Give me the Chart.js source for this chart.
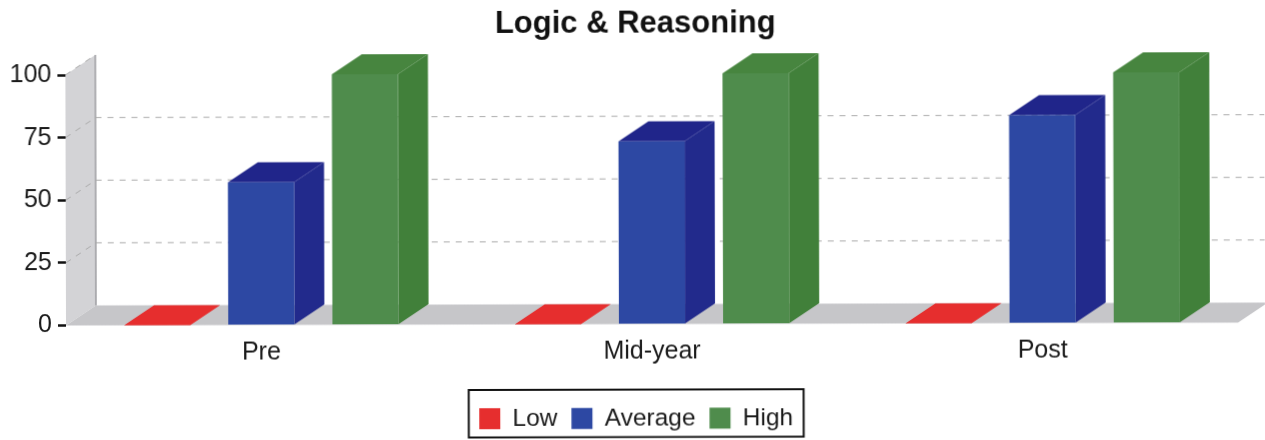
<!DOCTYPE html>
<html>
<head>
<meta charset="utf-8">
<style>
html,body{margin:0;padding:0;background:#fff;overflow:hidden}
canvas{display:block;transform-origin:66px 324px;transform:rotate(-0.14deg)}
</style>
<script src="https://cdn.jsdelivr.net/npm/chart.js@4"></script>
</head>
<body>
<canvas id="c" width="1265" height="440"></canvas>
<script>
const titleText = "Logic & Reasoning";
const categories = ["Pre", "Mid-year", "Post"];
const seriesNames = ["Low", "Average", "High"];
const lowValues = [0, 0, 0];
const averageValues = [57, 73, 83];
const highValues = [100, 100, 100];
const yTickStep = 25;
const yMax = 100;

const frontColors = ["#e62e2e", "#2d48a3", "#4f8c4c"];
const sideColors = ["#e62e2e", "#222a8c", "#41803a"];
const topColors = ["#e62e2e", "#20258a", "#47853f"];
const depthX = 30, depthY = 20;

function poly(ctx, pts, fill) {
  ctx.beginPath();
  pts.forEach((p, i) => i ? ctx.lineTo(p[0], p[1]) : ctx.moveTo(p[0], p[1]));
  ctx.closePath();
  ctx.fillStyle = fill;
  ctx.fill();
}

const scene3d = {
  id: "scene3d",
  beforeDatasetsDraw(chart) {
    const ctx = chart.ctx, a = chart.chartArea, y = chart.scales.y;
    const y0 = y.getPixelForValue(0), yTop = y.getPixelForValue(yMax);
    ctx.save();
    poly(ctx, [[a.left, y0], [a.left + depthX, y0 - depthY], [a.left + depthX, yTop - depthY], [a.left, yTop]], "#d3d3d6");
    poly(ctx, [[a.left, y0], [a.left + depthX, y0 - depthY], [a.right + depthX, y0 - depthY], [a.right, y0]], "#c6c6c9");
    ctx.strokeStyle = "#9c9ca0";
    ctx.lineWidth = 1.5;
    ctx.beginPath();
    ctx.moveTo(a.left + depthX, yTop - depthY);
    ctx.lineTo(a.left + depthX, y0 - depthY);
    ctx.stroke();
    ctx.strokeStyle = "#ababab";
    ctx.lineWidth = 1;
    ctx.setLineDash([6, 6]);
    y.ticks.forEach(t => {
      const py = y.getPixelForValue(t.value);
      if (t.value > 0) {
        ctx.beginPath();
        ctx.moveTo(a.left, py);
        ctx.lineTo(a.left + depthX, py - depthY);
        if (t.value < yMax) ctx.lineTo(a.right + depthX, py - depthY);
        ctx.stroke();
      }
    });
    ctx.setLineDash([]);
    chart.data.datasets.forEach((ds, di) => {
      chart.getDatasetMeta(di).data.forEach(bar => {
        const l = bar.x - bar.width / 2, r = bar.x + bar.width / 2, t = bar.y, b = bar.base;
        if (b - t > 0.5) {
          poly(ctx, [[r, b], [r + depthX, b - depthY], [r + depthX, t - depthY], [r, t]], sideColors[di]);
        }
        poly(ctx, [[l, t], [r, t], [r + depthX, t - depthY], [l + depthX, t - depthY]], topColors[di]);
      });
    });
    ctx.restore();
  },
  afterDraw(chart) {
    const ctx = chart.ctx, boxes = chart.legend.legendHitBoxes;
    const first = boxes[0], last = boxes[boxes.length - 1];
    ctx.save();
    ctx.strokeStyle = "#111";
    ctx.lineWidth = 2;
    ctx.strokeRect(first.left - 10.5, 391, last.left + last.width - first.left + 21, 47.5);
    ctx.restore();
  }
};

new Chart(document.getElementById("c"), {
  type: "bar",
  data: {
    labels: categories,
    datasets: [
      { label: seriesNames[0], data: lowValues, backgroundColor: frontColors[0] },
      { label: seriesNames[1], data: averageValues, backgroundColor: frontColors[1] },
      { label: seriesNames[2], data: highValues, backgroundColor: frontColors[2] }
    ]
  },
  options: {
    responsive: false,
    animation: false,
    maintainAspectRatio: false,
    events: [],
    layout: { padding: { left: 7, right: 0, top: 10, bottom: -2 } },
    datasets: { bar: { categoryPercentage: 0.8, barPercentage: 0.635, borderWidth: 0 } },
    scales: {
      x: {
        grid: { display: false },
        border: { display: false },
        ticks: { color: "#1a1a1a", font: { family: "Liberation Sans", size: 25 }, padding: 5, maxRotation: 0 },
        afterFit(s) { s.height = 68; }
      },
      y: {
        min: 0, max: yMax,
        grid: { drawOnChartArea: false, drawTicks: true, tickLength: 8, tickColor: "#111", tickWidth: 2.5 },
        border: { display: false },
        ticks: { stepSize: yTickStep, color: "#1a1a1a", font: { family: "Liberation Sans", size: 25 }, padding: 6 },
        afterFit(s) { s.width = 59; }
      },
      pad: {
        position: "right",
        grid: { display: false },
        border: { display: false },
        ticks: { display: false },
        afterFit(s) { s.width = 27; }
      }
    },
    plugins: {
      tooltip: { enabled: false },
      title: {
        display: true,
        text: titleText,
        color: "#111",
        font: { family: "Liberation Sans", size: 31, weight: "bold", lineHeight: 1 },
        padding: { top: 0, bottom: 34 }
      },
      legend: {
        position: "bottom",
        labels: {
          color: "#1a1a1a",
          font: { family: "Liberation Sans", size: 24.5, lineHeight: 1 },
          boxWidth: 21, boxHeight: 21,
          padding: 14
        }
      }
    }
  },
  plugins: [scene3d]
});
</script>
</body>
</html>
